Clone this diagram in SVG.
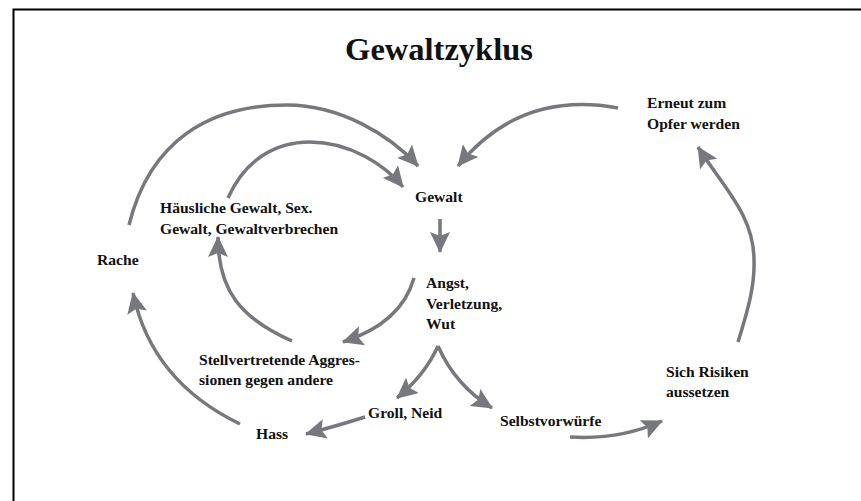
<svg xmlns="http://www.w3.org/2000/svg" width="861" height="501" viewBox="0 0 861 501">
  <style>
    .lbl { font-family: "Liberation Serif", "Times New Roman", serif; font-weight: bold; font-size: 15.6px; fill: #111; }
    .title { font-family: "Liberation Serif", "Times New Roman", serif; font-weight: bold; font-size: 32.5px; fill: #111; }
    .con { fill: none; stroke: #77787d; stroke-width: 3.5; marker-end: url(#ah); }
  </style>
  <defs>
    <marker id="ah" markerUnits="userSpaceOnUse" markerWidth="22" markerHeight="20" refX="20" refY="10" orient="auto" viewBox="0 0 22 20">
      <path d="M0,0 L21,10 L0,20 L4,10 z" fill="#77787d"/>
    </marker>
  </defs>
  <rect width="861" height="501" fill="#fff"/>
  <path d="M13.5,501 V9.5 H861" fill="none" stroke="#000" stroke-width="2"/>
  <text class="title" x="439" y="60" text-anchor="middle">Gewaltzyklus</text>

  <g id="connectors">
    <path class="con" d="M129,225 C150,140 210,105 287,105 C340,105 390,135 418,166"/>
    <path class="con" d="M228,198 C245,160 275,142 310,142 C350,142 385,165 403,187"/>
    <path class="con" d="M440,219 L440,252"/>
    <path class="con" d="M618,108 Q520,90 458,166"/>
    <path class="con" d="M738,342 C748,310 755,285 754,260 C754,215 723,187 698,147"/>
    <path class="con" d="M414,278 C405,310 380,330 343,342"/>
    <path class="con" d="M292,341 C240,318 218,290 218,237"/>
    <path class="con" d="M240,424 C180,395 145,350 133,293"/>
    <path class="con" d="M438,346 Q425,375 397,398"/>
    <path class="con" d="M438,346 Q455,385 492,408"/>
    <path class="con" d="M365,417 Q340,425 306,434"/>
    <path class="con" d="M570,437 Q620,440 662,421"/>
  </g>

  <g id="gewalt"><text class="lbl" x="415" y="202">Gewalt</text></g>
  <g id="angst"><text class="lbl" x="426" y="288">Angst,</text><text class="lbl" x="426" y="308.5">Verletzung,</text><text class="lbl" x="426" y="329">Wut</text></g>
  <g id="haeusliche"><text class="lbl" x="160" y="213">Häusliche Gewalt, Sex.</text><text class="lbl" x="160" y="234">Gewalt, Gewaltverbrechen</text></g>
  <g id="rache"><text class="lbl" x="97" y="265">Rache</text></g>
  <g id="stellvertretende"><text class="lbl" x="199" y="365">Stellvertretende Aggres-</text><text class="lbl" x="199" y="385">sionen gegen andere</text></g>
  <g id="groll"><text class="lbl" x="368" y="418">Groll, Neid</text></g>
  <g id="hass"><text class="lbl" x="256" y="439">Hass</text></g>
  <g id="selbstvorwuerfe"><text class="lbl" x="500" y="426">Selbstvorwürfe</text></g>
  <g id="risiken"><text class="lbl" x="666" y="377">Sich Risiken</text><text class="lbl" x="666" y="397">aussetzen</text></g>
  <g id="erneut"><text class="lbl" x="647" y="108">Erneut zum</text><text class="lbl" x="647" y="129">Opfer werden</text></g>
</svg>
